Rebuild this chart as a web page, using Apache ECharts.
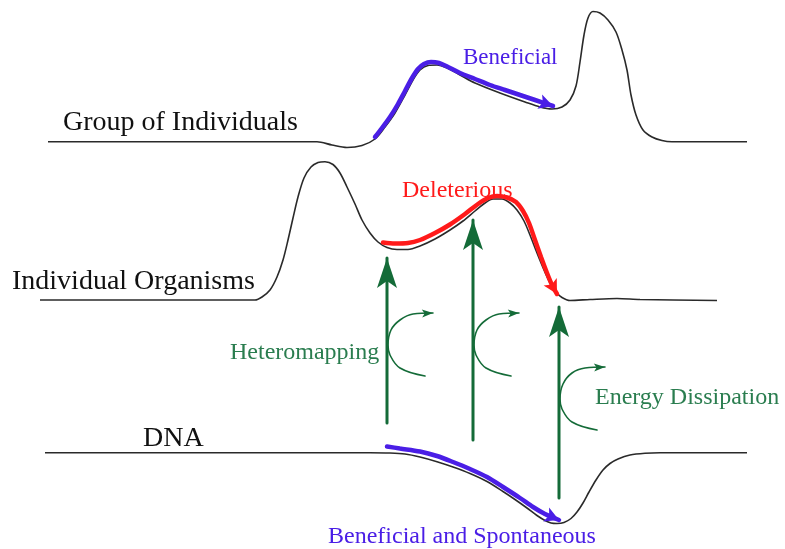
<!DOCTYPE html>
<html><head><meta charset="utf-8">
<script src="https://cdn.jsdelivr.net/npm/echarts@6/dist/echarts.min.js"></script>
<style>html,body{margin:0;padding:0;background:#fff}#c{width:785px;height:549px}</style>
</head><body><div id="c"></div>
<script>
// ---- curves (image coordinates) ----
const groupCurve = [[48,141.7],[317,141.7],[332,145],[347,147.5],[362,145.5],[375,139],[385,127],[395,113],[405,95],[413,80],[420,70],[428,65.5],[437,65],[447,68],[460,75],[475,83],[500,93],[525,102],[540,107],[552,109],[562,107],[570,100],[576,86],[580,62],[584,35],[588,18],[593,11.5],[600,13],[608,20],[616,32],[622,50],[627,70],[631,95],[636,115],[643,130],[652,137],[662,140.5],[672,141.7],[747,141.7]];
const organismCurve = [[40,300],[255,300],[262,297],[270,290],[277,277],[283,260],[288,240],[293,218],[298,197],[304,178],[311,167],[318,162.5],[325,161.7],[333,164.5],[340,173],[347,187],[355,204],[362,220],[370,233],[378,242],[387,247.5],[397,249.5],[408,249.5],[420,246],[435,239],[450,230],[463,221],[475,211],[485,203],[493,199],[502,199],[510,203],[517,210],[524,221],[530,235],[537,253],[544,270],[550,283],[556,292],[562,297.5],[570,300.5],[590,299.5],[617,298.5],[640,299.5],[717,300.5]];
const dnaCurve = [[45,452.7],[370,452.7],[390,453],[405,454],[420,457],[437,461.7],[453,467],[470,473.5],[487,481.5],[503,491.5],[515,499.5],[527,508],[537,515.5],[545,520.5],[551,523],[557,523.5],[564,522.5],[571,518.5],[577,512],[583,503],[589,492],[596,480],[603,470],[610,463.5],[618,459],[630,455],[645,453.2],[660,452.7],[747,452.7]];

// ---- coloured process arrows ----
const beneficialArrow = [[375,137],[382,128],[390,117],[398,104],[405,91],[412,78],[418,69],[424,64],[431,62],[439,63],[448,67],[460,73],[475,79],[490,85],[505,90],[520,95],[535,100],[553,106]];
const deleteriousArrow = [[383,242.5],[395,243.5],[408,243],[420,240],[435,233],[450,224.5],[465,214],[478,204],[488,198],[497,196],[507,197.5],[516,202],[523,211],[529,223],[535,240],[541,257],[547,273],[552,285],[557,294]];
const spontaneousArrow = [[387,446.5],[400,448.5],[420,451.5],[437,456],[453,462],[470,469],[487,477],[503,487],[520,498],[533,507],[545,514],[559,520]];

// ---- green vertical arrows (x, bottom y, tip y) ----
const greenArrowX = [387, 473, 559];
const greenArrowBottom = [423, 440, 498];
const greenArrowTip = [258, 220, 307];

// ---- green curved arrows ----
const arc1 = [[425,376],[400,368],[390,355],[388,345],[391,330],[400,320],[413,314],[433,313]];
const arc2 = [[511,376],[486,368],[476,355],[474,345],[477,330],[486,320],[499,314],[519,313]];
const arc3 = [[597,430],[572,422],[562,409],[560,399],[563,384],[572,373],[585,368],[605,367]];

// ---- text labels ----
const labelTexts = ['Group of Individuals','Individual Organisms','DNA','Beneficial','Deleterious','Heteromapping','Energy Dissipation','Beneficial and Spontaneous'];

const BLACK = '#2a2a2a', BLUE = '#4a1ee6', RED = '#ff1a1a', GREEN = '#146b38', GREEN_T = '#2a7d4f';
const HEAD = 'path://M0,-30 M0,0 L10,30 L0,23 L-10,30 Z';

function angleOf(pts){
  const a = pts[pts.length-2], b = pts[pts.length-1];
  return -(Math.atan2(b[1]-a[1], b[0]-a[0]) * 180 / Math.PI) - 90;
}
function curve(pts, color, width){
  return {type:'line', data: pts, symbol:'none', smooth:0.3, clip:false, silent:true,
    lineStyle:{color, width}, z:2};
}
function arrow(pts, color, width, hw, hl, smooth){
  return {type:'line', clip:false, silent:true, smooth: smooth,
    symbol: HEAD, symbolSize:[hw, hl*2], symbolRotate: angleOf(pts), showSymbol:true,
    data: pts.map((p,i)=> i===pts.length-1 ? {value:p} : {value:p, symbol:'none'}),
    lineStyle:{color, width, cap:'round'}, itemStyle:{color, borderWidth:0}, z:3};
}

const series = [
  curve(groupCurve, BLACK, 1.6),
  curve(organismCurve, BLACK, 1.6),
  curve(dnaCurve, BLACK, 1.6),
  arrow(beneficialArrow, BLUE, 4.5, 15, 14, 0.3),
  arrow(deleteriousArrow, RED, 4.5, 15, 14, 0.3),
  arrow(spontaneousArrow, BLUE, 4.5, 15, 14, 0.3),
  arrow(arc1, GREEN, 1.6, 8, 11, 0.4),
  arrow(arc2, GREEN, 1.6, 8, 11, 0.4),
  arrow(arc3, GREEN, 1.6, 8, 11, 0.4)
];
greenArrowX.forEach((x,i)=>{
  series.push(arrow([[x, greenArrowBottom[i]],[x, greenArrowTip[i]]], GREEN, 3, 20, 30, false));
});

const labelPos = [
  {x:63, y:122.5, fs:28, c:'#111'},
  {x:12, y:281.5, fs:28, c:'#111'},
  {x:143, y:438.5, fs:28, c:'#111'},
  {x:463, y:57.5, fs:23, c:BLUE},
  {x:402, y:190.5, fs:24, c:RED},
  {x:230, y:352.5, fs:24, c:GREEN_T},
  {x:595, y:397.5, fs:24, c:GREEN_T},
  {x:328, y:536.5, fs:24, c:BLUE}
];
const graphic = labelTexts.map((t,i)=>({
  type:'text', x: labelPos[i].x, y: labelPos[i].y, z: 10,
  style:{text:t, font: labelPos[i].fs + 'px "Liberation Serif", "Times New Roman", serif', fill: labelPos[i].c, verticalAlign:'middle', align:'left'}
}));

const chart = echarts.init(document.getElementById('c'));
chart.setOption({
  animation:false,
  backgroundColor:'#fff',
  grid:{left:0,right:0,top:0,bottom:0},
  xAxis:{type:'value', min:0, max:785, show:false},
  yAxis:{type:'value', min:0, max:549, inverse:true, show:false},
  series,
  graphic
});
</script></body></html>
